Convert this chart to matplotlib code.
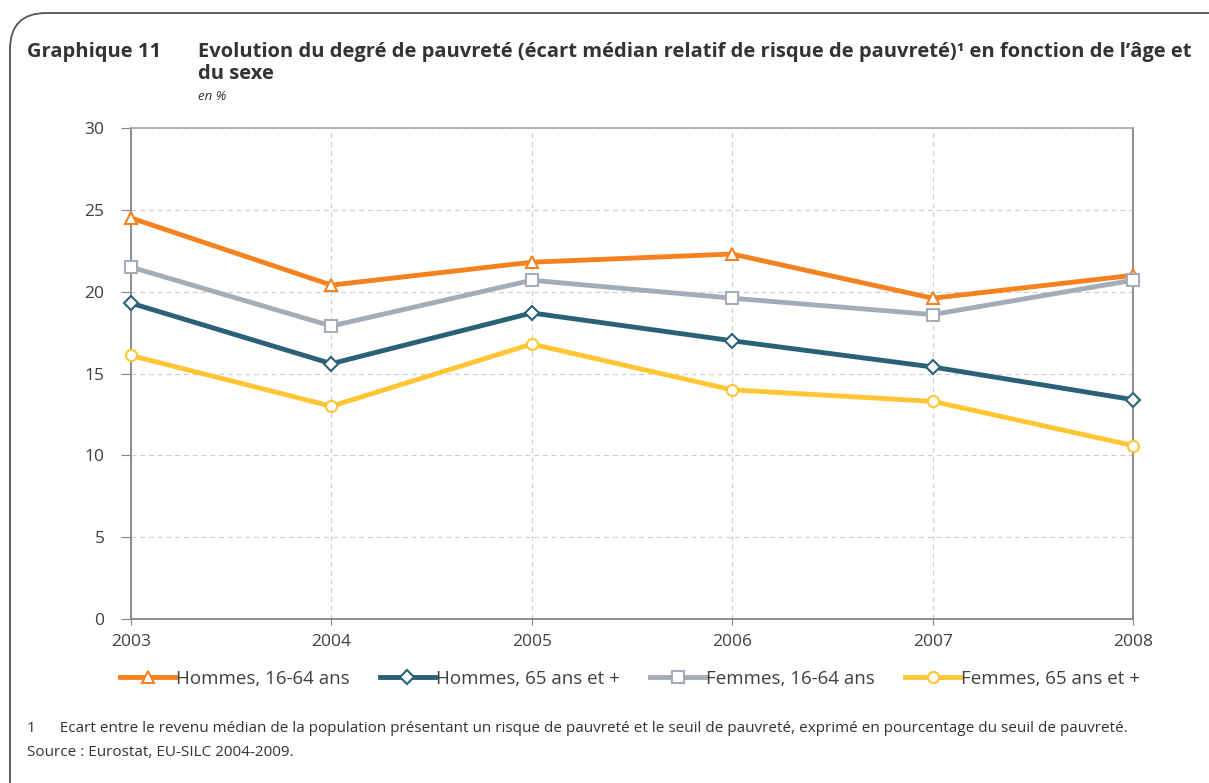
import matplotlib.pyplot as plt
from matplotlib.patches import FancyBboxPatch

plt.rcParams['font.family'] = ['Open Sans', 'DejaVu Sans']

years = [2003, 2004, 2005, 2006, 2007, 2008]
hommes_16_64 = [24.5, 20.4, 21.8, 22.3, 19.6, 21.0]
hommes_65 = [19.3, 15.6, 18.7, 17.0, 15.4, 13.4]
femmes_16_64 = [21.5, 17.9, 20.7, 19.6, 18.6, 20.7]
femmes_65 = [16.1, 13.0, 16.8, 14.0, 13.3, 10.6]

series = [
    ("Hommes, 16-64 ans", hommes_16_64, "#F58220", "^"),
    ("Hommes, 65 ans et +", hommes_65, "#2B6177", "D"),
    ("Femmes, 16-64 ans", femmes_16_64, "#A3ADB9", "s"),
    ("Femmes, 65 ans et +", femmes_65, "#FFC533", "o"),
]

fig = plt.figure(figsize=(12.09, 7.83), dpi=100)

# rounded frame around the whole figure
frame = FancyBboxPatch((10 / 1209, -0.05), 1.2, 1.05 - 13 / 783,
                       boxstyle="round,pad=0,rounding_size=0.03",
                       transform=fig.transFigure, fill=False,
                       edgecolor="#555555", linewidth=1.3,
                       mutation_aspect=1209 / 783)
fig.patches.append(frame)

ax = fig.add_axes([131 / 1209, 1 - 619 / 783, (1133 - 131) / 1209, (619 - 128) / 783])

for label, vals, color, mk in series:
    ms = 8 if mk != "D" else 7
    ax.plot(years, vals, color=color, lw=3.5, marker=mk, markersize=ms,
            markerfacecolor="white", markeredgecolor=color, markeredgewidth=1.5,
            label=label, clip_on=False, zorder=3)

ax.set_xlim(2003, 2008)
ax.set_ylim(0, 30)
ax.set_yticks(range(0, 31, 5))
ax.set_xticks(years)
ax.grid(True, linestyle=(0, (4, 3)), color="#D0D0D0", linewidth=0.9)
ax.set_axisbelow(True)
for s in ["left", "right", "bottom"]:
    ax.spines[s].set_color("#858585")
    ax.spines[s].set_linewidth(1.3)
ax.spines["top"].set_color("#A8A8A8")
ax.spines["top"].set_linewidth(1.2)
ax.tick_params(axis="both", labelsize=12.5, colors="#858585", labelcolor="#404040")
ax.tick_params(axis="y", length=7, pad=12)
ax.tick_params(axis="x", length=4, pad=7)

ax.legend(loc="upper center", bbox_to_anchor=(0.498, -0.069), ncol=4, frameon=False,
          fontsize=13.5, handlelength=2.9, handletextpad=0.05, columnspacing=1.65,
          labelcolor="#404040")

fig.text(27 / 1209, 1 - 52 / 783, "Graphique 11", fontsize=14.5, weight="bold",
         color="#333333", va="center")
fig.text(198 / 1209, 1 - 52 / 783,
         "Evolution du degré de pauvreté (écart médian relatif de risque de pauvreté)\u00b9 en fonction de l\u2019âge et",
         fontsize=14.5, weight="bold", color="#333333", va="center")
fig.text(198 / 1209, 1 - 74 / 783, "du sexe", fontsize=14.5, weight="bold",
         color="#333333", va="center")
fig.text(198 / 1209, 1 - 97 / 783, "en %", fontsize=9.5, style="italic",
         color="#333333", va="center")

fig.text(27 / 1209, 1 - 729 / 783,
         "1      Ecart entre le revenu médian de la population présentant un risque de pauvreté et le seuil de pauvreté, exprimé en pourcentage du seuil de pauvreté.",
         fontsize=11, color="#333333", va="center")
fig.text(27 / 1209, 1 - 753 / 783, "Source : Eurostat, EU-SILC 2004-2009.",
         fontsize=11, color="#333333", va="center")

fig.savefig("out.png", dpi=100)
